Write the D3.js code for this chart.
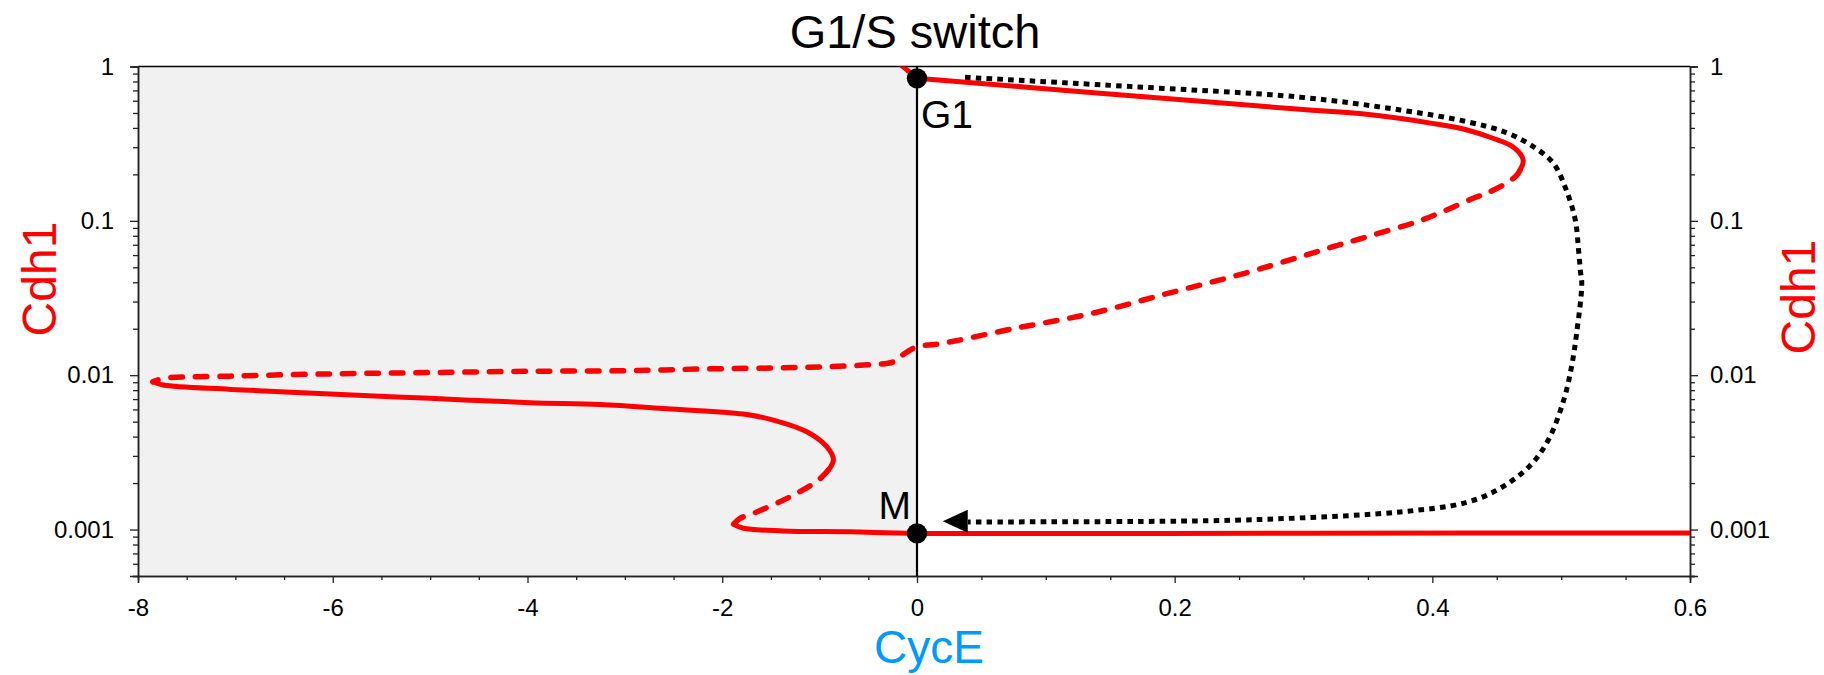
<!DOCTYPE html>
<html>
<head>
<meta charset="utf-8">
<script src="https://cdn.jsdelivr.net/npm/d3@7/dist/d3.min.js"></script>
<style>
  html, body { margin: 0; padding: 0; background: #fff; }
  svg { display: block; font-family: "Liberation Sans", Arial, sans-serif; }
</style>
</head>
<body>
<svg id="chart" width="1824" height="675"></svg>
<script>
// ---- Data: CycE (x) vs Cdh1 (y, log) ----
// Upper stable branch (G1 state), solid: short piece at negative CycE, then the main arm
const upperLeftX = [-0.2, 0];
const upperLeftY = [1.07, 0.838];
const upperStableX = [0, 0.142, 0.2974, 0.349, 0.40, 0.427, 0.447, 0.463, 0.4705, 0.468];
const upperStableY = [0.838, 0.672, 0.528, 0.49, 0.428, 0.388, 0.343, 0.30, 0.248, 0.213];

// Middle unstable branch, dashed
const middleUnstableX = [0.468, 0.4656, 0.4589, 0.4425, 0.4317, 0.408, 0.388, 0.349, 0.323, 0.2974, 0.2542, 0.1948, 0.1354, 0.0759, 0.0165, 0,
  -0.175, -0.243, -0.585, -1.201, -2.228, -2.947, -3.973, -5.0, -6.027, -7.053, -7.74, -7.847];
const middleUnstableY = [0.213, 0.198, 0.1785, 0.1514, 0.14, 0.1146, 0.0987, 0.0788, 0.068, 0.0585, 0.0457, 0.0339, 0.0251, 0.0201, 0.0159, 0.0153,
  0.01316, 0.0122, 0.0116, 0.01123, 0.01096, 0.0107, 0.0106, 0.0104, 0.0102, 0.00986, 0.00953, 0.00906];

// Intermediate stable branch (left), solid
const leftStableX = [-7.847, -7.74, -7.05, -6.027, -5.0, -3.973, -3.255, -2.57, -1.783, -1.475, -1.132, -0.927, -0.858, -0.91];
const leftStableY = [0.00906, 0.00863, 0.00809, 0.00755, 0.00708, 0.00663, 0.00645, 0.00606, 0.0056, 0.00512, 0.0043, 0.00344, 0.00282, 0.00243];

// Small unstable segment of the S, dashed
const sUnstableX = [-0.91, -1.013, -1.304, -1.646, -1.817, -1.886];
const sUnstableY = [0.00243, 0.00209, 0.00163, 0.0013, 0.00118, 0.00108];

// Lower stable branch (M state), solid
const lowerStableX = [-1.886, -1.783, -1.373, -0.688, 0, 0.3, 0.6];
const lowerStableY = [0.00108, 0.00102, 0.00098, 0.000967, 0.000944, 0.000947, 0.00095];

// Trajectory from G1 round to M, dotted
const trajX = [0.0373, 0.168, 0.2974, 0.375, 0.4268, 0.4578, 0.4785, 0.494, 0.504, 0.511, 0.5135, 0.515, 0.516, 0.512, 0.508, 0.502, 0.490, 0.476, 0.4526, 0.4268, 0.375, 0.2974, 0.226, 0.0396];
const trajY = [0.851, 0.74, 0.633, 0.523, 0.439, 0.372, 0.302, 0.236, 0.158, 0.101, 0.0647, 0.0468, 0.039, 0.0187, 0.0113, 0.0069, 0.0038, 0.0026, 0.00185, 0.0015, 0.0013, 0.00119, 0.00114, 0.00112];
const arrowTip = [0.02, 0.00113];

// Steady states
const stateNames = ["G1", "M"];
const stateX = [0, 0];
const stateY = [0.838, 0.000944];

// Axis ticks
const xMajorTicks = [-8, -6, -4, -2, 0, 0.2, 0.4, 0.6];
const xTickLabels = ["-8", "-6", "-4", "-2", "0", "0.2", "0.4", "0.6"];
const yMajorTicks = [1, 0.1, 0.01, 0.001];
const yTickLabels = ["1", "0.1", "0.01", "0.001"];

// ---- Layout ----
const svg = d3.select("#chart");
const plotLeft = 138, plotRight = 1690, plotTop = 66.5, plotBottom = 576;

const x = d3.scaleLinear().domain([-8, 0, 0.6]).range([plotLeft, 917, plotRight]);
const y = d3.scaleLog().domain([0.0005, 1]).range([plotBottom, plotTop]);

// minor ticks
const xMinor = d3.range(-8, 0.0001, 0.5).concat(d3.range(0.05, 0.6001, 0.05))
  .filter(v => !xMajorTicks.some(t => Math.abs(t - v) < 1e-9));
const yMinor = [];
[0.0001, 0.001, 0.01, 0.1].forEach(d => {
  for (let k = 2; k <= 9; k++) {
    const v = d * k;
    if (v >= 0.0005 - 1e-12 && v <= 1) yMinor.push(v);
  }
});

// Shaded negative-CycE region
svg.append("rect")
  .attr("x", x(-8)).attr("y", plotTop)
  .attr("width", x(0) - x(-8)).attr("height", plotBottom - plotTop)
  .attr("fill", "#f1f1f1");

svg.append("defs").append("clipPath").attr("id", "plotclip")
  .append("rect").attr("x", plotLeft).attr("y", plotTop)
  .attr("width", plotRight - plotLeft).attr("height", plotBottom - plotTop);

// zero line
svg.append("line")
  .attr("x1", x(0)).attr("x2", x(0)).attr("y1", plotTop).attr("y2", plotBottom)
  .attr("stroke", "#000").attr("stroke-width", 2.2);

// top border
svg.append("line")
  .attr("x1", plotLeft).attr("x2", plotRight).attr("y1", plotTop).attr("y2", plotTop)
  .attr("stroke", "#000").attr("stroke-width", 1.5);

// Axes
function styleAxis(g) {
  g.selectAll("path.domain").attr("stroke", "#222").attr("stroke-width", 1.5);
  g.selectAll(".tick line").attr("stroke", "#222").attr("stroke-width", 1.3);
  g.selectAll(".tick text").attr("fill", "#000")
    .style("font-family", "'Liberation Sans', Arial, sans-serif").style("font-size", "24px");
}

const gx = svg.append("g").attr("transform", `translate(0,${plotBottom})`);
gx.append("g").call(d3.axisBottom(x).tickValues(xMinor).tickSize(4).tickFormat(""))
  .call(styleAxis);
gx.append("g").call(d3.axisBottom(x).tickValues(xMajorTicks).tickSize(7).tickPadding(16)
  .tickFormat((d, i) => xTickLabels[i])).call(styleAxis);

const gyl = svg.append("g").attr("transform", `translate(${plotLeft},0)`);
gyl.append("g").call(d3.axisLeft(y).tickValues(yMinor).tickSize(5).tickFormat(""))
  .call(styleAxis);
gyl.append("g").call(d3.axisLeft(y).tickValues(yMajorTicks).tickSize(8).tickPadding(16)
  .tickFormat((d, i) => yTickLabels[i])).call(styleAxis);

const gyr = svg.append("g").attr("transform", `translate(${plotRight},0)`);
gyr.append("g").call(d3.axisRight(y).tickValues(yMinor).tickSize(5).tickFormat(""))
  .call(styleAxis);
gyr.append("g").call(d3.axisRight(y).tickValues(yMajorTicks).tickSize(8).tickPadding(12)
  .tickFormat((d, i) => yTickLabels[i])).call(styleAxis);

// Curves
const line = d3.line().x(d => x(d[0])).y(d => y(d[1])).curve(d3.curveCatmullRom.alpha(0.5));
const zip = (xs, ys) => xs.map((v, i) => [v, ys[i]]);

const curves = svg.append("g").attr("clip-path", "url(#plotclip)");

function branch(xs, ys, dashed) {
  const p = curves.append("path").datum(zip(xs, ys))
    .attr("d", line).attr("fill", "none")
    .attr("stroke", "#ff0000").attr("stroke-width", dashed ? 5.5 : 5)
    .attr("stroke-linecap", "round").attr("stroke-linejoin", "round");
  if (dashed) p.attr("stroke-dasharray", "11.5,13");
}
branch(upperLeftX, upperLeftY, false);
branch(upperStableX, upperStableY, false);
branch(middleUnstableX, middleUnstableY, true);
branch(leftStableX, leftStableY, false);
branch(sUnstableX, sUnstableY, true);
branch(lowerStableX, lowerStableY, false);

// Dotted trajectory
curves.append("path").datum(zip(trajX, trajY))
  .attr("d", line).attr("fill", "none")
  .attr("stroke", "#000").attr("stroke-width", 5)
  .attr("stroke-dasharray", "5.6,5.2");

// arrow head pointing left
const ax = x(arrowTip[0]), ay = y(arrowTip[1]);
svg.append("path")
  .attr("d", `M${ax},${ay} L${ax + 25},${ay - 11.5} L${ax + 25},${ay + 11.5} Z`)
  .attr("fill", "#000");

// Steady-state dots and labels
svg.selectAll("circle.state").data(stateNames).enter().append("circle")
  .attr("class", "state")
  .attr("cx", (d, i) => x(stateX[i])).attr("cy", (d, i) => y(stateY[i]))
  .attr("r", 10.2).attr("fill", "#000");

svg.append("text").attr("x", x(stateX[0]) + 4).attr("y", y(stateY[0]) + 50)
  .attr("font-size", 39).attr("fill", "#000").text(stateNames[0]);
svg.append("text").attr("x", x(stateX[1]) - 6).attr("y", y(stateY[1]) - 14)
  .attr("text-anchor", "end")
  .attr("font-size", 39).attr("fill", "#000").text(stateNames[1]);

// Titles
svg.append("text").attr("x", 915).attr("y", 48).attr("text-anchor", "middle")
  .attr("font-size", 47).attr("fill", "#000").text("G1/S switch");

svg.append("text").attr("x", 929).attr("y", 663).attr("text-anchor", "middle")
  .attr("font-size", 46).attr("fill", "#0099ff").text("CycE");

svg.append("text").attr("transform", "translate(56,279) rotate(-90)")
  .attr("text-anchor", "middle").attr("font-size", 48).attr("fill", "#ff0000").text("Cdh1");
svg.append("text").attr("transform", "translate(1815,297) rotate(-90)")
  .attr("text-anchor", "middle").attr("font-size", 48).attr("fill", "#ff0000").text("Cdh1");
</script>
</body>
</html>
